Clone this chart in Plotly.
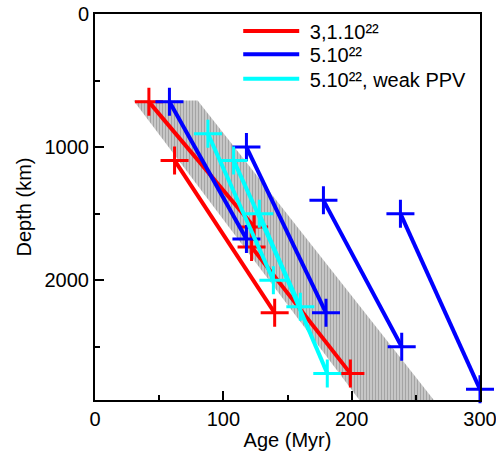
import plotly.graph_objects as go

# Data (age in Myr, depth in km)
red_ages = [[42, 124], [62, 140], [122, 199]]
red_depths = [[660, 1600], [1100, 2245], [1750, 2700]]

blue_ages = [[58, 118], [118, 180], [178, 239], [238, 300]]
blue_depths = [[660, 1690], [1000, 2245], [1400, 2500], [1500, 2820]]

cyan_ages = [[88, 139], [108, 160], [128, 181]]
cyan_depths = [[900, 2000], [1100, 2200], [1500, 2700]]

band_ages = [30, 80, 264, 206, 30]
band_depths = [650, 650, 2900, 2900, 650]

legend_names = ["3,1.10²²", "5.10²²", "5.10²², weak PPV"]
colors = ["#ff0000", "#0000ff", "#00ffff"]

FONT = "Arial, Liberation Sans, sans-serif"

fig = go.Figure()

fig.add_trace(go.Scatter(
    x=band_ages, y=band_depths, mode="lines", fill="toself",
    line=dict(width=0, color="rgba(0,0,0,0)"),
    fillcolor="#bdbdbd",
    fillpattern=dict(shape="|", size=3, solidity=0.3, fgcolor="#7a7a7a", bgcolor="#c6c6c6"),
    showlegend=False, hoverinfo="skip"))

for ages_list, depths_list, col in [(red_ages, red_depths, colors[0]),
                                    (blue_ages, blue_depths, colors[1]),
                                    (cyan_ages, cyan_depths, colors[2])]:
    for a, d in zip(ages_list, depths_list):
        fig.add_trace(go.Scatter(
            x=a, y=d, mode="lines+markers",
            line=dict(color=col, width=4),
            marker=dict(symbol="cross-thin", size=20, line=dict(color=col, width=3)),
            showlegend=False, cliponaxis=False))

legend_keys = ["legend", "legend2", "legend3"]
legend_rows = [0.956, 0.896, 0.832]
for name, col, key in zip(legend_names, colors, legend_keys):
    fig.add_trace(go.Scatter(x=[None], y=[None], mode="lines", name="\u00a0" + name,
                             legend=key, line=dict(color=col, width=4)))

legend_style = dict(x=0.372, xanchor="left", yanchor="middle",
                    bgcolor="rgba(0,0,0,0)", font=dict(size=20, family=FONT),
                    itemwidth=56, tracegroupgap=0)

fig.update_layout(
    width=496, height=454,
    margin=dict(l=95, r=16, t=14, b=54, autoexpand=False),
    plot_bgcolor="white", paper_bgcolor="white",
    font=dict(family=FONT, size=20, color="black"),
    showlegend=True,
    legend=dict(y=legend_rows[0], **legend_style),
    legend2=dict(y=legend_rows[1], **legend_style),
    legend3=dict(y=legend_rows[2], **legend_style),
    xaxis=dict(range=[0, 300], tickvals=[0, 100, 200, 300], ticks="inside",
               ticklen=9, tickwidth=2, tickcolor="black",
               showline=True, linewidth=2, linecolor="black", mirror=True,
               showgrid=False, zeroline=False, automargin=False,
               ticklabeloverflow="allow",
               minor=dict(tickvals=[50, 150, 250], ticks="inside", ticklen=5,
                          tickwidth=2, tickcolor="black", showgrid=False),
               title=dict(text="Age (Myr)", font=dict(size=20), standoff=4)),
    yaxis=dict(range=[2900, 0], tickvals=[0, 1000, 2000], ticks="inside",
               ticklen=9, tickwidth=2, tickcolor="black",
               showline=True, linewidth=2, linecolor="black", mirror=True,
               showgrid=False, zeroline=False, automargin=False,
               ticklabeloverflow="allow",
               minor=dict(tickvals=[500, 1500, 2500], ticks="inside", ticklen=5,
                          tickwidth=2, tickcolor="black", showgrid=False),
               title=dict(text="Depth (km)", font=dict(size=20), standoff=8)),
)

fig.write_html("out.html", config={"displayModeBar": False},
               post_script="document.body.style.margin='0px';")
